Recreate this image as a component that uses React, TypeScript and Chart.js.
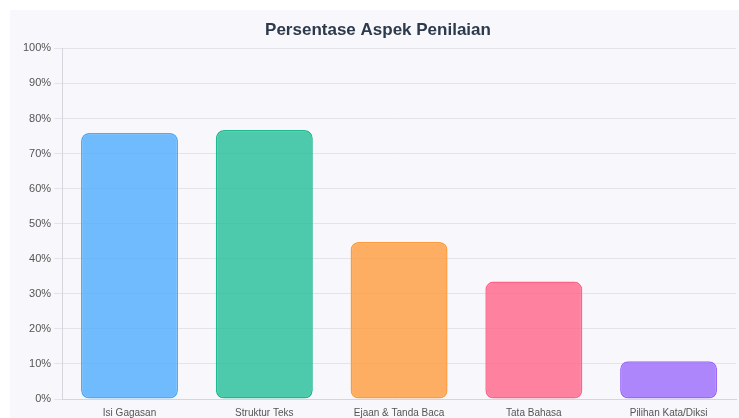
import React, { useEffect, useRef } from "react";
import { Chart, registerables } from "chart.js";

Chart.register(...registerables);

const categories = ["Isi Gagasan", "Struktur Teks", "Ejaan & Tanda Baca", "Tata Bahasa", "Pilihan Kata/Diksi"];
const values = [75.9, 76.7, 44.8, 33.5, 10.8];
const fillColors = [
  "rgba(77, 171, 252, 0.8)",
  "rgba(32, 190, 150, 0.8)",
  "rgba(255, 155, 60, 0.8)",
  "rgba(255, 100, 135, 0.8)",
  "rgba(155, 105, 250, 0.8)",
];
const borderColors = ["#4dabf7", "#20b98f", "#ff9b3c", "#ff6488", "#9b69fa"];
const yTicks = [0, 10, 20, 30, 40, 50, 60, 70, 80, 90, 100];
const title = "Persentase Aspek Penilaian";

export default function App() {
  const ref = useRef<HTMLCanvasElement | null>(null);
  useEffect(() => {
    if (!ref.current) return;
    const chart = new Chart(ref.current, {
      type: "bar",
      data: {
        labels: categories,
        datasets: [
          {
            data: values,
            backgroundColor: fillColors,
            borderColor: borderColors,
            borderWidth: 1.5,
            borderRadius: 8,
            borderSkipped: false,
          },
        ],
      },
      options: {
        responsive: false,
        animation: false,
        layout: { padding: { left: 10, right: 1, top: 0, bottom: 0 } },
        plugins: {
          legend: { display: false },
          tooltip: { enabled: false },
          title: {
            display: true,
            text: title,
            color: "#2d3a4b",
            font: { family: "Liberation Sans, Arial, sans-serif", size: 17, weight: "bold" },
            padding: { top: 10, bottom: 8 },
          },
        },
        scales: {
          x: {
            grid: { display: false },
            border: { display: true, color: "#d5d5dc" },
            ticks: {
              color: "#555",
              font: { family: "Liberation Sans, Arial, sans-serif", size: 10 },
              padding: 0,
              maxRotation: 0,
            },
          },
          y: {
            min: 0,
            max: 100,
            afterBuildTicks: (axis: any) => {
              axis.ticks = yTicks.map((v) => ({ value: v }));
            },
            grid: { color: "#e3e3ea" },
            border: { display: true, color: "#d5d5dc" },
            ticks: {
              color: "#555",
              font: { family: "Liberation Sans, Arial, sans-serif", size: 11 },
              callback: (v: any) => v + "%",
            },
          },
        },
      },
    });
    return () => chart.destroy();
  }, []);
  return (
    <div
      style={{
        position: "absolute",
        left: 10,
        top: 10,
        width: 729,
        height: 408,
        overflow: "hidden",
        background: "#f7f7fc",
      }}
    >
      <canvas ref={ref} width={727} height={409} style={{ display: "block" }} />
    </div>
  );
}
